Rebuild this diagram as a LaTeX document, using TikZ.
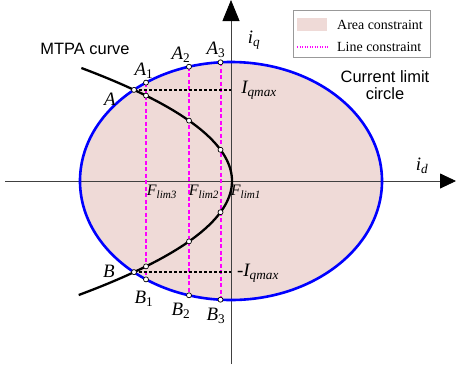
\documentclass[tikz,border=0pt]{standalone}
\usepackage{fontspec}
\setmainfont{Liberation Serif}
\setsansfont{Liberation Sans}
\usetikzlibrary{arrows.meta}
\definecolor{areapink}{RGB}{239,218,215}
\definecolor{limblue}{RGB}{0,0,255}
\definecolor{linemag}{RGB}{255,0,255}
\begin{document}
\begin{tikzpicture}[x=1bp,y=-1bp,
  axis/.style={draw=black!75, line width=0.8bp},
  mk/.style={circle, draw=black, fill=white, line width=0.7bp, inner sep=0pt, minimum size=5bp},
  lab/.style={font=\fontsize{19}{21}\selectfont\itshape, inner sep=0pt},
  flab/.style={font=\fontsize{16}{18}\selectfont\itshape, inner sep=0pt},
  magline/.style={draw=linemag, line width=2bp, dash pattern=on 4bp off 2.5bp},
  blkdash/.style={draw=black, line width=1.3bp, dash pattern=on 3bp off 2bp},
  sans/.style={font=\sffamily\fontsize{16.5}{17.5}\selectfont, inner sep=0pt, align=center},
  leg/.style={font=\fontsize{14}{16}\selectfont, inner sep=0pt, anchor=west}]
\useasboundingbox (0,0) rectangle (456,364);
% area
\fill[areapink] (231,181) ellipse [x radius=151, y radius=119];
% axes
\coordinate (xl) at (5,181); \coordinate (xr) at (456,181);
\coordinate (yb) at (231,364); \coordinate (yt) at (231,0);
\draw[axis, -{Triangle[length=16bp,width=15bp,color=black,fill=black]}] (xl) -- (xr);
\draw[axis, -{Triangle[length=21bp,width=17bp,color=black,fill=black]}] (yb) -- (yt);
% points
\coordinate (A) at (134,89.9);
\coordinate (A1) at (146,82.6);
\coordinate (A2) at (189,66.7);
\coordinate (A3) at (220.5,62.3);
\coordinate (B) at (134,272.1);
\coordinate (B1) at (146,279.4);
\coordinate (B2) at (189,295.3);
\coordinate (B3) at (220.5,299.7);
\coordinate (C1) at (146,95.6);
\coordinate (C2) at (189,120.6);
\coordinate (C3) at (220.5,149.8);
\coordinate (D3) at (220.5,212.2);
\coordinate (D2) at (189,241.4);
\coordinate (D1) at (146,266.4);
\coordinate (Aq) at (231,89.9);
\coordinate (Bq) at (231,272.1);
% constraint lines
\draw[magline] (A1) -- (B1);
\draw[magline] (A2) -- (B2);
\draw[magline] (A3) -- (B3);
\draw[blkdash] (A) -- (Aq);
\draw[blkdash] (B) -- (Bq);
% current limit circle
\draw[draw=limblue, line width=2.6bp] (231,181) ellipse [x radius=151, y radius=119];
% MTPA curve
\draw[line width=2.3bp] plot[domain=68:295, samples=90, smooth] ({232-0.0118*(\x-181)^2}, \x);
% markers
\foreach \p in {A,A1,A2,A3,B,B1,B2,B3,C1,C2,C3,D1,D2,D3}
  \node[mk] (m\p) at (\p) {};
% labels
\node[lab] (lA) at (110,99) {A};
\node[lab] (lA1) at (144,71) {A\textsubscript{\upshape 1}};
\node[lab] (lA2) at (181,55) {A\textsubscript{\upshape 2}};
\node[lab] (lA3) at (216,50) {A\textsubscript{\upshape 3}};
\node[lab] (lB) at (109,271) {B};
\node[lab] (lB1) at (144,299) {B\textsubscript{\upshape 1}};
\node[lab] (lB2) at (181,311) {B\textsubscript{\upshape 2}};
\node[lab] (lB3) at (216,316) {B\textsubscript{\upshape 3}};
\node[lab] (lIq) at (259,90) {I\textsubscript{qmax}};
\node[lab] (lIqn) at (258,273) {\upshape-\itshape I\textsubscript{qmax}};
\node[lab] (liq) at (254,40) {i\textsubscript{q}};
\node[lab] (lid) at (422,166) {i\textsubscript{d}};
\node[flab] (lF3) at (162,192) {F\textsubscript{lim3}};
\node[flab] (lF2) at (204,192) {F\textsubscript{lim2}};
\node[flab] (lF1) at (246,192) {F\textsubscript{lim1}};
\node[sans] (mtpa) at (85,49) {MTPA curve};
\node[sans] (clc) at (385,85) {Current limit\\circle};
% legend
\node[draw=black!40, line width=0.6bp, minimum width=137bp, minimum height=47bp, anchor=north west, inner sep=0pt] (legend) at (293,10) {};
\node[fill=areapink, minimum width=30bp, minimum height=13bp, inner sep=0pt, anchor=north west] (patch) at (297,18) {};
\coordinate (ls) at (297,47); \coordinate (le) at (328,47);
\draw[draw=linemag, line width=1.3bp, dash pattern=on 1.3bp off 1.2bp] (ls) -- (le);
\node[leg] (t1) at (337,25) {Area constraint};
\node[leg] (t2) at (337,47) {Line constraint};
\end{tikzpicture}
\end{document}
